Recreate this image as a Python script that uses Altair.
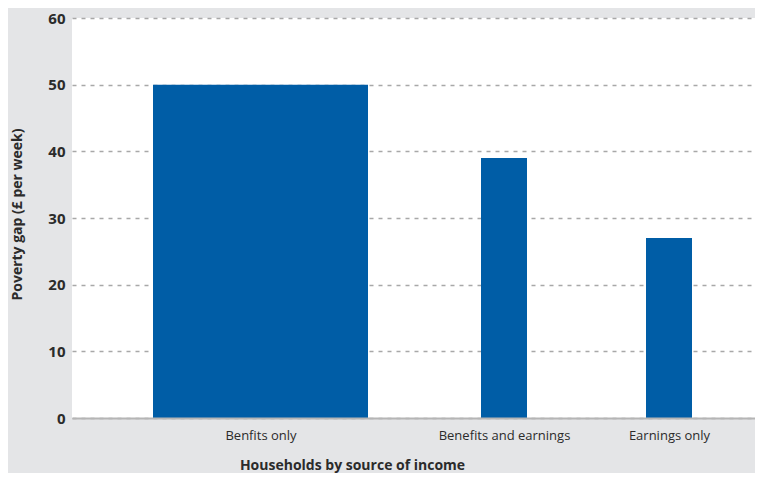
import altair as alt
import pandas as pd

# ---- data ----
categories = ["Benfits only", "Benefits and earnings", "Earnings only"]
values = [50, 39, 27]
y_ticks = [0, 10, 20, 30, 40, 50, 60]

# ---- layout (positions along the x axis, in plot-width units) ----
W, H = 683, 400
BAR_CENTER = [188.5, 432, 597]
BAR_WIDTH = [215, 46, 46]

FONT = "Open Sans"
TEXT = "#2b2b2b"
BLUE = "#005DA6"

df = pd.DataFrame({
    "category": categories,
    "value": values,
    "center": BAR_CENTER,
    "bw": BAR_WIDTH,
})

label_expr = " : ".join(
    f"datum.value == {c} ? '{n}'" for c, n in zip(BAR_CENTER, categories)
) + " : ''"

chart = (
    alt.Chart(df)
    .transform_calculate(x0="datum.center - datum.bw / 2",
                         x1="datum.center + datum.bw / 2")
    .mark_bar(color=BLUE)
    .encode(
        x=alt.X(
            "x0:Q",
            scale=alt.Scale(domain=[0, W], nice=False, zero=False),
            axis=alt.Axis(
                values=BAR_CENTER,
                labelExpr=label_expr,
                title="Households by source of income",
                grid=False,
                ticks=False,
                domain=True,
                domainColor="#b5b5b5",
                domainWidth=2,
                labelFont=FONT,
                labelFontSize=13,
                labelColor=TEXT,
                labelPadding=11,
                labelOverlap=False,
                labelFlush=False,
                titleFont=FONT,
                titleFontSize=14,
                titleFontWeight="bold",
                titleColor=TEXT,
                titleX=280,
                titleY=40,
                titleAlign="center",
                titleBaseline="top",
                zindex=1,
            ),
        ),
        x2="x1:Q",
        y=alt.Y(
            "value:Q",
            scale=alt.Scale(domain=[0, 60], nice=False, padding=0),
            axis=alt.Axis(
                values=y_ticks,
                title="Poverty gap (£ per week)",
                grid=True,
                gridDash=[4, 5],
                gridColor="#a8a8a8",
                gridWidth=1.5,
                ticks=False,
                domain=False,
                labelFont=FONT,
                labelFontSize=15,
                labelFontWeight="bold",
                labelColor=TEXT,
                labelPadding=7,
                labelBaseline="middle",
                titleFont=FONT,
                titleFontSize=14,
                titleFontWeight="bold",
                titleColor=TEXT,
                titleAngle=270,
                titleX=-55,
                titleY=196,
                titleAlign="center",
                titleBaseline="middle",
            ),
        ),
        y2=alt.datum(0),
    )
    .properties(
        width=W,
        height=H,
        autosize=alt.AutoSizeParams(type="none"),
        padding={"left": 64, "top": 10, "right": 0, "bottom": 55},
    )
    .configure(background="#e4e5e7")
    .configure_view(fill="white", stroke=None)
)

chart.save("out.html", embed_options={"renderer": "svg", "actions": False})
